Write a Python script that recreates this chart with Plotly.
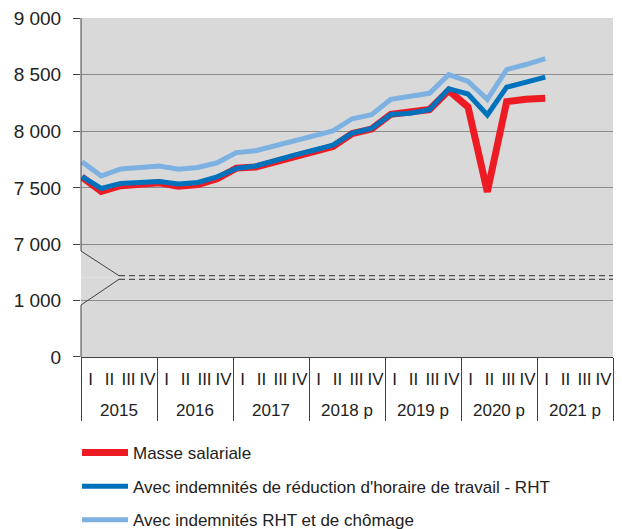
import plotly.graph_objects as go

# ---- data ----
quarters = ["I", "II", "III", "IV"]
years = ["2015", "2016", "2017", "2018 p", "2019 p", "2020 p", "2021 p"]

series_names = [
    "Masse salariale",
    "Avec indemnités de réduction d'horaire de travail - RHT",
    "Avec indemnités RHT et de chômage",
]

# quarterly values from 2015 Q1 to 2021 Q1
masse_salariale = [7595, 7470, 7520, 7535, 7545, 7515, 7530, 7580, 7675, 7685,
                   7730, 7780, 7820, 7865, 7980, 8020, 8150, 8165, 8192, 8360,
                   8215, 7465, 8262, 8284, 8292]
avec_rht = [7600, 7495, 7540, 7550, 7557, 7535, 7548, 7598, 7672, 7694,
            7745, 7790, 7833, 7878, 7985, 8025, 8148, 8160, 8190, 8375,
            8330, 8145, 8390, 8432, 8478]
avec_rht_chomage = [7730, 7605, 7668, 7682, 7694, 7665, 7680, 7722, 7812, 7828,
                    7871, 7913, 7955, 8003, 8111, 8147, 8282, 8305, 8336, 8500,
                    8440, 8282, 8545, 8590, 8642]

upper_ticks = [7000, 7500, 8000, 8500, 9000]
lower_ticks = [0, 1000]

# ---- derived ----
nq = len(quarters)
cat_quarters = [q for y in years for q in quarters]
n_cat = len(cat_quarters)
quarter_pos = list(range(n_cat))
year_pos = [k * nq + (nq - 1) / 2 for k in range(len(years))]
year_bounds = [k * nq - 0.5 for k in range(len(years) + 1)]
x_idx = list(range(len(masse_salariale)))
cat_range = [-0.5, n_cat - 0.5]

colors = ["#ed1c24", "#0072bc", "#7db1e1"]
widths = [7, 5, 5]
series = [masse_salariale, avec_rht, avec_rht_chomage]

fig = go.Figure()

# empty helper traces so that the category/label axes exist
for xa in ["x", "x3", "x4"]:
    fig.add_trace(go.Scatter(x=[], y=[], xaxis=xa, yaxis="y", showlegend=False,
                             hoverinfo="skip", mode="lines"))

for i, (name, vals) in enumerate(zip(series_names, series)):
    fig.add_trace(go.Scatter(
        x=x_idx, y=vals, name=name, mode="lines",
        line=dict(color=colors[i], width=widths[i]),
        xaxis="x2", yaxis="y2", legendgroup="g%d" % i,
    ))

FONT = "Liberation Sans, Arial, sans-serif"
AX = "#404040"
GRID = "#8c8c8c"
TXT = "#222222"

split = 0.235
H = 339.0
def yp(py):          # page pixel y -> paper y
    return (357.0 - py) / H
def xp(px):          # page pixel x -> paper x
    return (px - 81.0) / 532.0

shapes = [
    dict(type="line", xref="paper", yref="paper", x0=0, x1=0, y0=1, y1=yp(251),
         line=dict(color=AX, width=1)),
    dict(type="line", xref="paper", yref="paper", x0=0, x1=xp(119), y0=yp(251), y1=yp(275.7),
         line=dict(color=AX, width=1)),
    dict(type="line", xref="paper", yref="paper", x0=xp(119), x1=0, y0=yp(279.3), y1=yp(305),
         line=dict(color=AX, width=1)),
    dict(type="line", xref="paper", yref="paper", x0=0, x1=0, y0=yp(305), y1=0,
         line=dict(color=AX, width=1)),
    dict(type="line", xref="paper", yref="paper", x0=xp(119), x1=1, y0=yp(275.7), y1=yp(275.7),
         line=dict(color="#333333", width=1, dash="6px,4px")),
    dict(type="line", xref="paper", yref="paper", x0=xp(119), x1=1, y0=yp(279.3), y1=yp(279.3),
         line=dict(color="#333333", width=1, dash="6px,4px")),
]

yax_common = dict(tickformat=",", ticks="outside", ticklen=7, tickcolor=AX,
                  showgrid=True, gridcolor=GRID, gridwidth=1, zeroline=False,
                  showline=False, tickfont=dict(size=19, color=TXT),
                  ticklabelstandoff=8, ticklabeloverflow="allow",
                  automargin=False)

fig.update_layout(
    width=614, height=521,
    margin=dict(l=73, r=9, t=10, b=172, autoexpand=False),
    plot_bgcolor="#d9d9d9", paper_bgcolor="white",
    separators=", ",
    font=dict(family=FONT, size=17, color=TXT),
    showlegend=True,
    legend=dict(x=xp(77), y=yp(435), xanchor="left", yanchor="top", orientation="v",
                tracegroupgap=8.5, itemwidth=46, font=dict(size=17, color=TXT),
                bgcolor="rgba(0,0,0,0)"),
    # quarter labels + bottom axis line
    xaxis=dict(domain=[0, 1], anchor="y", range=cat_range, automargin=False,
               tickmode="array", tickvals=quarter_pos, ticktext=cat_quarters,
               showline=True, linecolor=AX, linewidth=1, showgrid=False,
               zeroline=False, ticks="", tickangle=0, ticklabelstandoff=7,
               tickfont=dict(size=17, color=TXT)),
    # year labels
    xaxis3=dict(overlaying="x", anchor="y", side="bottom", range=cat_range,
                automargin=False, tickmode="array", tickvals=year_pos,
                ticktext=years, ticks="", showline=False, showgrid=False,
                zeroline=False, tickangle=0, ticklabelstandoff=41,
                tickfont=dict(size=17, color=TXT)),
    # year dividers
    xaxis4=dict(overlaying="x", anchor="y", side="bottom", range=cat_range,
                automargin=False, tickmode="array", tickvals=year_bounds,
                ticks="outside", ticklen=63, tickwidth=1, tickcolor=AX,
                showticklabels=False, showline=False, showgrid=False,
                zeroline=False),
    # hidden axis carrying the lines
    xaxis2=dict(domain=[0, 1], anchor="y2", range=[-0.05, 27.51], visible=False,
                automargin=False),
    yaxis=dict(domain=[0, split], range=[0, 1400], tickvals=lower_ticks, **yax_common),
    yaxis2=dict(domain=[split, 1], range=[6710, 9001], tickvals=upper_ticks, **yax_common),
    shapes=shapes,
)

fig.write_html("out.html")
